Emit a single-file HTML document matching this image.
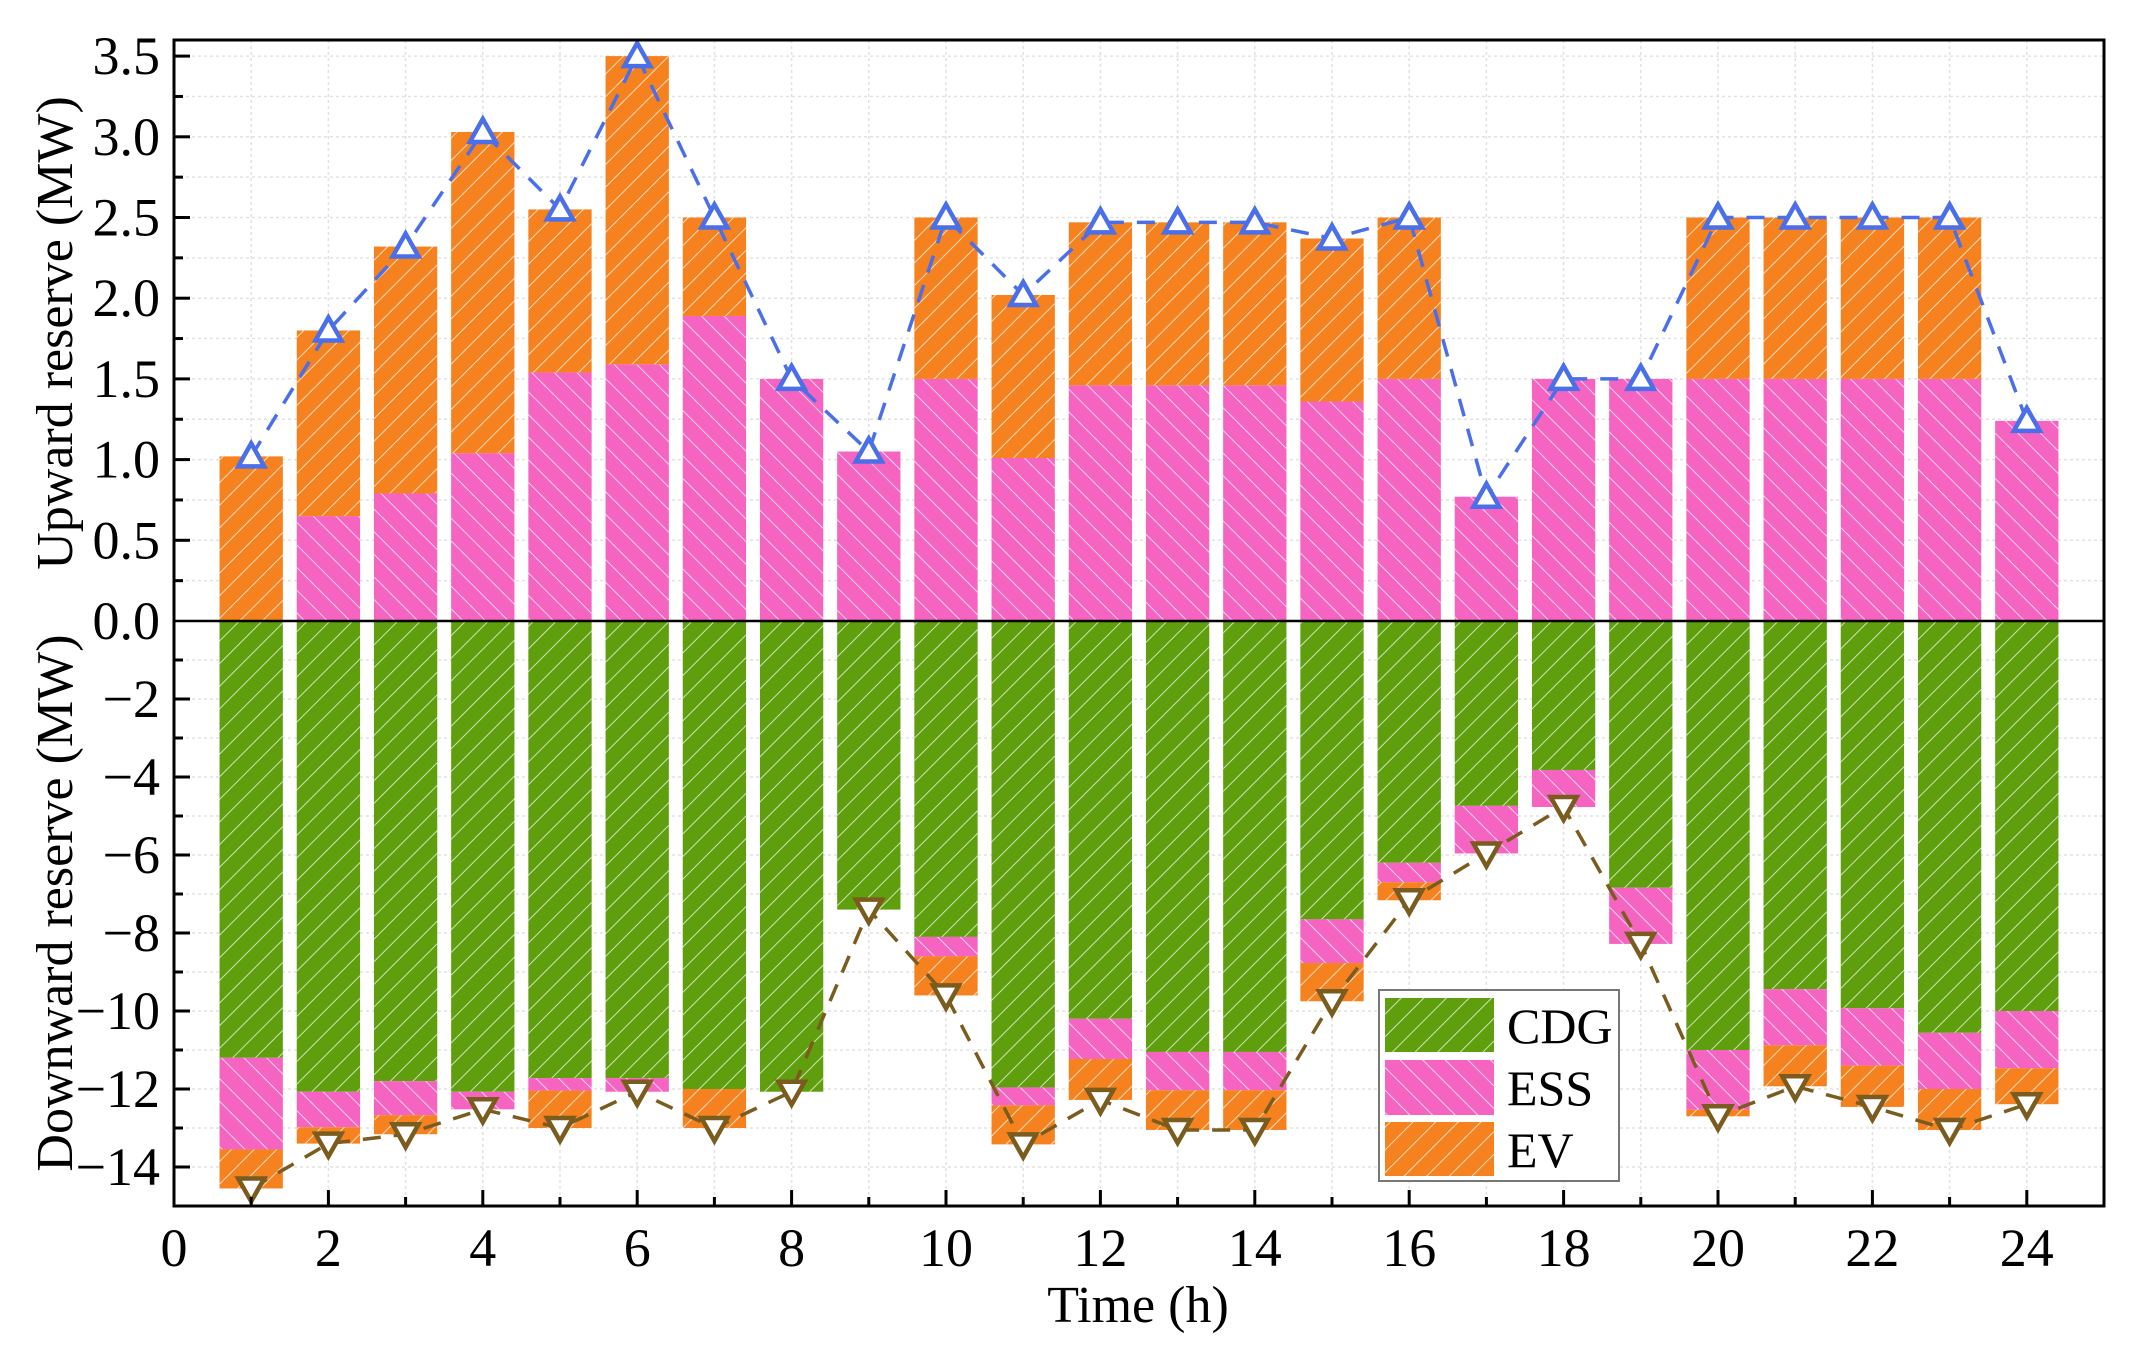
<!DOCTYPE html>
<html><head><meta charset="utf-8"><style>
html,body{margin:0;padding:0;background:#fff}
svg{display:block;font-family:"Liberation Serif",serif}
</style></head><body>
<svg id="chart" width="2129" height="1352" viewBox="0 0 2129 1352" xmlns="http://www.w3.org/2000/svg">
<defs>
<pattern id="hatchF" patternUnits="userSpaceOnUse" width="16" height="16" patternTransform="rotate(45)">
<line x1="0" y1="0" x2="0" y2="16" stroke="rgba(255,255,255,0.7)" stroke-width="2"/></pattern>
<pattern id="hatchB" patternUnits="userSpaceOnUse" width="16" height="16" patternTransform="rotate(-45)">
<line x1="0" y1="0" x2="0" y2="16" stroke="rgba(255,255,255,0.7)" stroke-width="2"/></pattern>
<clipPath id="plotClip"><rect x="174" y="40" width="1930" height="1166"/></clipPath>
</defs>
<g id="grid"></g>
<g id="bars" clip-path="url(#plotClip)"></g>
<g id="lines"></g>
<g id="axes"></g>
<text x="0" y="0" transform="translate(72,333) rotate(-90)" text-anchor="middle" font-size="52">Upward reserve  (MW)</text>
<text x="0" y="0" transform="translate(72,903) rotate(-90)" text-anchor="middle" font-size="52">Downward reserve  (MW)</text>
<text x="1138" y="1322" text-anchor="middle" font-size="52">Time (h)</text>
<g>
<rect x="1379" y="990" width="240" height="191" fill="#fff" stroke="#777" stroke-width="2"/>
<g>
<rect x="1385" y="998" width="109" height="54" fill="#5f9e0d"/><rect x="1385" y="998" width="109" height="54" fill="url(#hatchF)"/>
<text x="1507" y="1043" font-size="50">CDG</text></g>
<g>
<rect x="1385" y="1060" width="109" height="55" fill="#f564c0"/><rect x="1385" y="1060" width="109" height="55" fill="url(#hatchB)"/>
<text x="1507" y="1105" font-size="50">ESS</text></g>
<g>
<rect x="1385" y="1122" width="109" height="54" fill="#f5821f"/><rect x="1385" y="1122" width="109" height="54" fill="url(#hatchF)"/>
<text x="1507" y="1167" font-size="50">EV</text></g>
</g>
</svg>
<script>
const hours = [1,2,3,4,5,6,7,8,9,10,11,12,13,14,15,16,17,18,19,20,21,22,23,24];
const upESS = [0,0.65,0.79,1.04,1.54,1.59,1.89,1.5,1.05,1.5,1.01,1.46,1.46,1.46,1.36,1.5,0.77,1.5,1.5,1.5,1.5,1.5,1.5,1.24];
const upEV = [1.02,1.15,1.53,1.99,1.01,1.91,0.61,0,0,1.0,1.01,1.01,1.01,1.01,1.01,1.0,0,0,0,1.0,1.0,1.0,1.0,0];
const downCDG = [11.2,12.07,11.8,12.07,11.72,11.72,12.0,12.07,7.4,8.1,11.96,10.2,11.05,11.05,7.65,6.2,4.74,3.82,6.84,11.0,9.44,9.93,10.56,10.0];
const downESS = [2.35,0.91,0.87,0.45,0.32,0.35,0,0,0,0.5,0.46,1.03,0.98,0.98,1.12,0.5,1.22,0.95,1.44,1.53,1.44,1.47,1.44,1.47];
const downEV = [1.0,0.42,0.49,0,0.96,0,1.0,0,0,1.0,1.0,1.05,1.02,1.02,0.98,0.46,0,0,0,0.17,1.05,1.06,1.05,0.92];
const xTicks = [0,2,4,6,8,10,12,14,16,18,20,22,24];
const upTicks = [0,0.5,1,1.5,2,2.5,3,3.5];
const downTicks = [-2,-4,-6,-8,-10,-12,-14];

const NS="http://www.w3.org/2000/svg";
const X0=174, PXH=77.2, Y0=621, PUP=161.4, PDN=39.0, TOP=40, BOT=1206, RIGHT=2104;
const xs=h=>X0+h*PXH;
const ys=v=>v>=0?Y0-v*PUP:Y0-v*PDN;
function mk(tag,attrs,parent){const e=document.createElementNS(NS,tag);for(const k in attrs)e.setAttribute(k,attrs[k]);parent.appendChild(e);return e;}
const gGrid=document.getElementById('grid'),gBars=document.getElementById('bars'),gLines=document.getElementById('lines'),gAxes=document.getElementById('axes');

for(let h=1;h<25;h++){const l=mk('line',{x1:xs(h),x2:xs(h),y1:TOP,y2:BOT,stroke:'#e2e2e2','stroke-width':1.5,'stroke-dasharray':'3,3'},gGrid);

}
for(let v=0.25;v<3.6;v+=0.25){const l=mk('line',{x1:X0,x2:RIGHT,y1:ys(v),y2:ys(v),stroke:'#e2e2e2','stroke-width':1.5,'stroke-dasharray':'3,3'},gGrid);

}
for(let v=-1;v>=-15;v--){const l=mk('line',{x1:X0,x2:RIGHT,y1:ys(v),y2:ys(v),stroke:'#e2e2e2','stroke-width':1.5,'stroke-dasharray':'3,3'},gGrid);

}

const BW=0.82;
function seg(h,a,b,color,pat,name){
  const y1=Math.min(ys(a),ys(b)),y2=Math.max(ys(a),ys(b));
  if(y2-y1<0.5)return;
  const x=xs(h-BW/2),w=BW*PXH;
  const r=mk('rect',{x:x,y:y1,width:w,height:y2-y1,fill:color},gBars);
  
  
  const p=mk('rect',{x:x,y:y1,width:w,height:y2-y1,fill:'url(#'+pat+')'},gBars);
  
  
}
hours.forEach((h,i)=>{
  seg(h,0,upESS[i],'#f564c0','hatchB','bar-up-ess-'+h);
  seg(h,upESS[i],upESS[i]+upEV[i],'#f5821f','hatchF','bar-up-ev-'+h);
  const c=-downCDG[i],e=c-downESS[i],v=e-downEV[i];
  seg(h,0,c,'#5f9e0d','hatchF','bar-down-cdg-'+h);
  seg(h,c,e,'#f564c0','hatchB','bar-down-ess-'+h);
  seg(h,e,v,'#f5821f','hatchF','bar-down-ev-'+h);
});

const upTot=hours.map((h,i)=>upESS[i]+upEV[i]);
const dnTot=hours.map((h,i)=>-(downCDG[i]+downESS[i]+downEV[i]));
const up=mk('polyline',{points:hours.map((h,i)=>xs(h)+','+ys(upTot[i])).join(' '),fill:'none',stroke:'#4a6fe8','stroke-width':3.5,'stroke-dasharray':'18,13'},gLines);


const dn=mk('polyline',{points:hours.map((h,i)=>xs(h)+','+ys(dnTot[i])).join(' '),fill:'none',stroke:'#7a5c1e','stroke-width':3.5,'stroke-dasharray':'18,13'},gLines);


hours.forEach((h,i)=>{
  const x=xs(h),y=ys(upTot[i]);
  const t=mk('polygon',{points:`${x},${y-13} ${x-13},${y+10} ${x+13},${y+10}`,fill:'#fff',stroke:'#4a6fe8','stroke-width':4.5},gLines);
  
  
  const y2=ys(dnTot[i]);
  const t2=mk('polygon',{points:`${x},${y2+13} ${x-13},${y2-10} ${x+13},${y2-10}`,fill:'#fff',stroke:'#7a5c1e','stroke-width':4.5},gLines);
  
  
});

const fr=mk('rect',{x:X0,y:TOP,width:RIGHT-X0,height:BOT-TOP,fill:'none',stroke:'#000','stroke-width':3},gAxes);


const zl=mk('line',{x1:X0,x2:RIGHT,y1:Y0,y2:Y0,stroke:'#000','stroke-width':2.5},gAxes);


for(let h=1;h<=24;h++){const major=h%2===0;mk('line',{x1:xs(h),x2:xs(h),y1:BOT,y2:BOT-(major?16:9),stroke:'#000','stroke-width':3},gAxes);}
xTicks.forEach(t=>{const tx=mk('text',{x:xs(t),y:1266,'text-anchor':'middle','font-size':54},gAxes);tx.textContent=t;

});
for(let v=0.25;v<3.6;v+=0.25){const major=Math.abs(v*2-Math.round(v*2))<1e-6;mk('line',{x1:X0,x2:X0+(major?16:9),y1:ys(v),y2:ys(v),stroke:'#000','stroke-width':3},gAxes);}
for(let v=-1;v>=-14;v--){mk('line',{x1:X0,x2:X0+(v%2===0?16:9),y1:ys(v),y2:ys(v),stroke:'#000','stroke-width':3},gAxes);}
upTicks.forEach(t=>{const tx=mk('text',{x:160,y:ys(t)+18,'text-anchor':'end','font-size':54},gAxes);tx.textContent=t.toFixed(1);

});
downTicks.forEach(t=>{const tx=mk('text',{x:160,y:ys(t)+18,'text-anchor':'end','font-size':54},gAxes);tx.textContent='\u2212'+Math.abs(t);

});
</script>
</body></html>
